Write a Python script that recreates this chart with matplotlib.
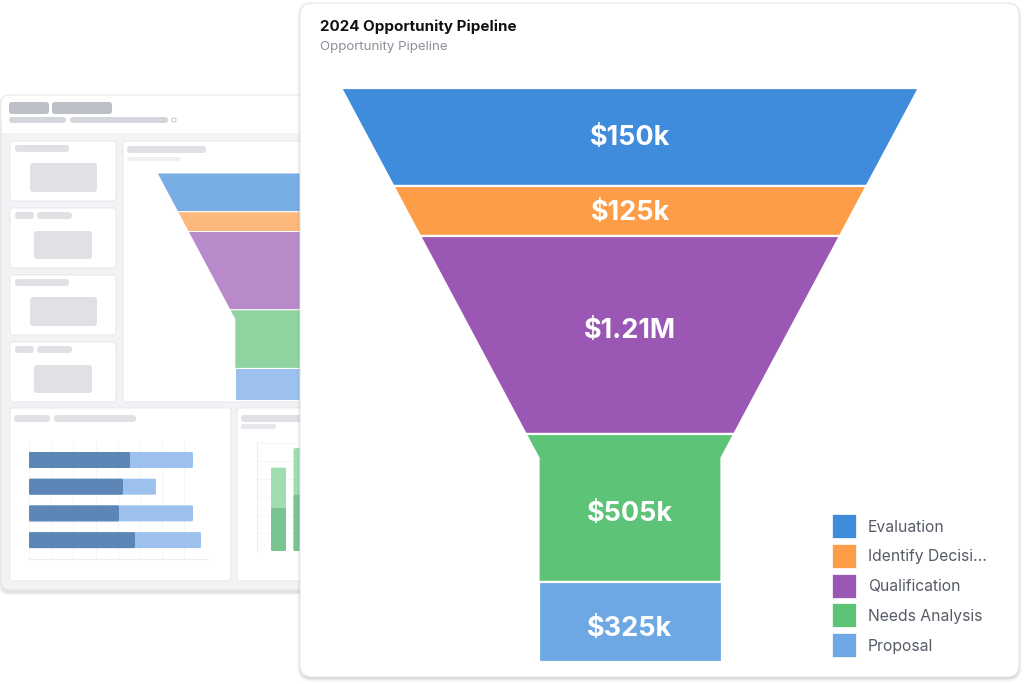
import matplotlib
matplotlib.use("Agg")
import matplotlib.pyplot as plt
from matplotlib.patches import FancyBboxPatch, Polygon, Rectangle, Circle

plt.rcParams['font.family'] = ['Inter', 'DejaVu Sans']

# ---------------- data ----------------
title = "2024 Opportunity Pipeline"
subtitle = "Opportunity Pipeline"
stages = ["Evaluation", "Identify Decisi...", "Qualification", "Needs Analysis", "Proposal"]
value_labels = ["$150k", "$125k", "$1.21M", "$505k", "$325k"]
stage_heights = [98, 50, 198, 148, 80]          # relative segment heights
stage_colors = ["#3f8cdc", "#fd9d48", "#9a58b4", "#5cc377", "#6ea8e4"]
mini_colors = ["#79ade6", "#fdb97c", "#b98ac9", "#8fd3a1", "#9cc1ec"]

# decorative dashboard mockup data
mock_bar_dark = [101, 94, 90, 106]
mock_bar_light = [164, 127, 164, 172]
mock_col_top = [60, 74]
mock_col_dark = [39, 51]

W, H = 1024, 684
fig = plt.figure(figsize=(W / 100, H / 100), dpi=100)
bg = fig.add_axes([0, 0, 1, 1])
bg.set_xlim(0, W)
bg.set_ylim(H, 0)
bg.axis('off')


def rrect(ax, x0, y0, x1, y1, r, fc, ec='none', lw=0, z=1, alpha=1.0):
    p = FancyBboxPatch((x0, y0), x1 - x0, y1 - y0,
                       boxstyle=f"round,pad=0,rounding_size={r}",
                       fc=fc, ec=ec, lw=lw, zorder=z, alpha=alpha)
    ax.add_patch(p)
    return p


def funnel_polys(heights, top_w, neck_w, neck_frac):
    total = sum(heights)
    neck_y = total * (1 - neck_frac)

    def half(y):
        if y >= neck_y:
            return neck_w / 2
        return top_w / 2 - (top_w - neck_w) / 2 * (y / neck_y)

    polys = []
    y = 0
    for h in heights:
        y0, y1 = y, y + h
        pts_y = [y0] + ([neck_y] if y0 < neck_y < y1 else []) + [y1]
        left = [(-half(v), v) for v in pts_y]
        right = [(half(v), v) for v in reversed(pts_y)]
        polys.append((left + right, (y0 + y1) / 2))
        y = y1
    return polys, total


# ---------------- background dashboard mockup ----------------
for i, a in enumerate([0.05, 0.04, 0.03]):
    rrect(bg, 1 - i, 95 - i + 2, 306 + i, 591 + i + 2, 9, '#000000', z=1, alpha=a)
rrect(bg, 1, 95, 306, 590, 9, '#f1f3f5', ec='#e4e6ea', lw=0.8, z=2)
rrect(bg, 1.5, 95.5, 305.5, 133, 8, '#ffffff', z=2.1)
bg.add_patch(Rectangle((1.5, 120), 304, 13, fc='#ffffff', ec='none', zorder=2.1))
# header pills
rrect(bg, 9, 102, 49, 114, 3, '#bcbfc5', z=3)
rrect(bg, 52, 102, 112, 114, 3, '#bcbfc5', z=3)
rrect(bg, 9, 117, 66, 123, 3, '#d3d6db', z=3)
rrect(bg, 70, 117, 168, 123, 3, '#d3d6db', z=3)
bg.add_patch(Circle((174, 120), 2, fc='none', ec='#c4c7cc', lw=0.8, zorder=3))

# left small cards
for i, y0 in enumerate([141, 208, 275, 342]):
    rrect(bg, 10, y0, 116, y0 + 60, 3, '#ffffff', ec='#e2e4e8', lw=0.6, z=3)
    if i % 2 == 0:
        rrect(bg, 15, y0 + 4, 69, y0 + 11, 3, '#dfe1e5', z=4)
        rrect(bg, 30, y0 + 22, 97, y0 + 51, 3, '#dfe1e5', z=4)
    else:
        rrect(bg, 15, y0 + 4, 34, y0 + 11, 3, '#dfe1e5', z=4)
        rrect(bg, 37, y0 + 4, 72, y0 + 11, 3, '#dfe1e5', z=4)
        rrect(bg, 34, y0 + 23, 92, y0 + 51, 3, '#dfe1e5', z=4)

# funnel card
rrect(bg, 123, 141, 330, 402, 3, '#ffffff', ec='#e2e4e8', lw=0.6, z=3)
rrect(bg, 127, 146, 206, 153, 3, '#dfe1e5', z=4)
rrect(bg, 127, 157, 180, 161, 2, '#eef0f2', z=4)

# bottom cards
rrect(bg, 10, 408, 231, 581, 3, '#ffffff', ec='#e2e4e8', lw=0.6, z=3)
rrect(bg, 14, 415, 50, 422, 3, '#dfe1e5', z=4)
rrect(bg, 54, 415, 136, 422, 3, '#dfe1e5', z=4)
rrect(bg, 237, 408, 330, 581, 3, '#ffffff', ec='#e2e4e8', lw=0.6, z=3)
rrect(bg, 241, 415, 330, 422, 3, '#dfe1e5', z=4)
rrect(bg, 241, 424, 276, 429, 2, '#e6e8eb', z=4)

# mini bar chart
bx = 29
for gx in range(8):
    bg.plot([bx + gx * 22.2, bx + gx * 22.2], [442, 559], color='#f1f2f4', lw=0.6, zorder=4)
bg.plot([bx, 208], [559, 559], color='#eceef0', lw=0.8, zorder=4)
for i, (d, l) in enumerate(zip(mock_bar_dark, mock_bar_light)):
    y0 = 452 + i * 26.7
    rrect(bg, bx, y0, bx + l, y0 + 16, 1.5, '#9cc1ec', z=5)
    rrect(bg, bx, y0, bx + d, y0 + 16, 1.5, '#5b86b5', z=5.1)

# mini column chart
bg.plot([257, 257], [442, 551], color='#eceef0', lw=0.8, zorder=4)
for k in range(6):
    bg.plot([257, 330], [443 + k * 18, 443 + k * 18], color='#f4f5f6', lw=0.6, zorder=4)
for i, (t, d) in enumerate(zip(mock_col_top, mock_col_dark)):
    x0 = 271 + i * 22.5
    rrect(bg, x0, 551 - t * 1.39, x0 + 15, 551, 1.5, '#9fdcb0', z=5)
    rrect(bg, x0, 551 - d * 1.1, x0 + 15, 551, 1.5, '#79c491', z=5.1)

# mini funnel
mini = fig.add_axes([157 / W, 1 - 400 / H, 228 / W, 227 / H])
mini.axis('off')
mini.set_zorder(1)
polys, total = funnel_polys(stage_heights, 1.0, 183 / 578, 204 / 574)
for (pts, _), c in zip(polys, mini_colors):
    mini.add_patch(Polygon(pts, closed=True, fc=c, ec='#ffffff', lw=0.7))
mini.set_xlim(-0.5, 0.5)
mini.set_ylim(total, 0)

# ---------------- main card ----------------
top = fig.add_axes([0, 0, 1, 1])
top.set_xlim(0, W)
top.set_ylim(H, 0)
top.axis('off')
top.set_zorder(2)
top.patch.set_alpha(0)
for i, a in enumerate([0.06, 0.045, 0.03, 0.02]):
    rrect(top, 300 - i, 3 - i + 2, 1019 + i, 677 + i + 2, 12 + i, '#000000', z=1, alpha=a)
rrect(top, 300, 3, 1019, 677, 12, '#ffffff', ec='#e6e7ea', lw=0.8, z=2)

top.text(320, 27, title, fontsize=10.9, fontweight='bold', color='#111111',
         ha='left', va='center', zorder=3)
top.text(320, 47, subtitle, fontsize=9.6, color='#8b9099',
         ha='left', va='center', zorder=3)

# legend
for i, (name, c) in enumerate(zip(stages, stage_colors)):
    y = 526 + i * 29.8
    top.add_patch(Rectangle((832, y - 12), 24, 24, fc=c, ec='#ffffff', lw=0.5, zorder=3))
    top.text(868, y + 1, name, fontsize=11.3, color='#565c66', ha='left', va='center', zorder=3)

# main funnel
fa = fig.add_axes([341 / W, 1 - 662 / H, 578 / W, 574 / H])
fa.axis('off')
fa.set_zorder(3)
fa.patch.set_alpha(0)
polys, total = funnel_polys(stage_heights, 1.0, 183 / 578, 204 / 574)
label_nudge = [1, 2, -4, 6, 7]   # label placement fine-tuning (px)
for (pts, yc), c, lab, dy in zip(polys, stage_colors, value_labels, label_nudge):
    fa.add_patch(Polygon(pts, closed=True, fc=c, ec='#ffffff', lw=1.6))
    fa.text(0, yc + dy, lab, fontsize=19.5, fontweight='bold', color='#ffffff',
            ha='center', va='center')
fa.set_xlim(-0.5, 0.5)
fa.set_ylim(total, 0)

fig.savefig("out.png", dpi=100, facecolor='white')
